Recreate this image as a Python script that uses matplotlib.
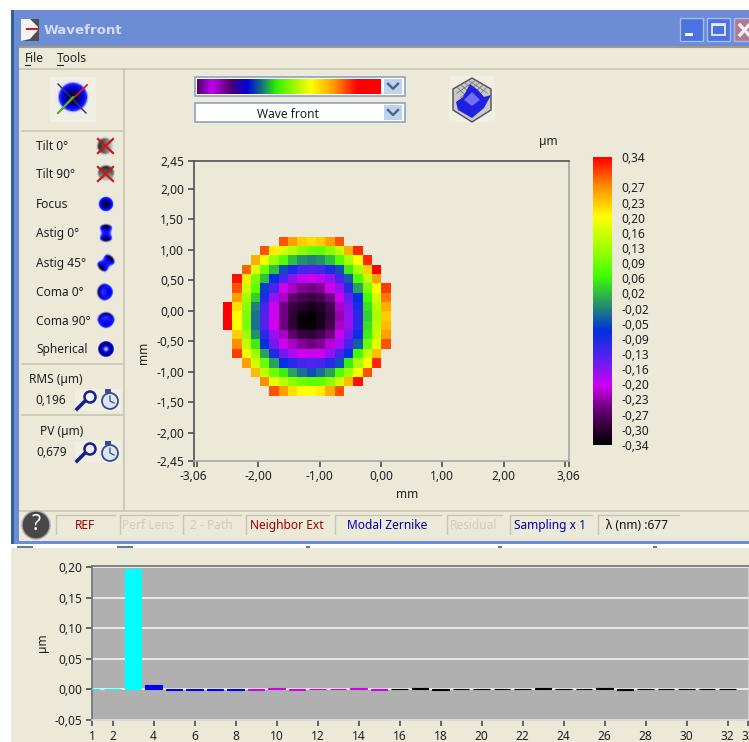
"""Wavefront analyser window: wave front map, colour scale and Zernike bars."""
import numpy as np
import matplotlib

matplotlib.use("Agg")
import matplotlib.pyplot as plt
from matplotlib.colors import LinearSegmentedColormap, Normalize
from matplotlib.patches import Circle, Polygon, Rectangle

plt.rcParams["font.family"] = ["Noto Sans", "DejaVu Sans"]

W, H = 749, 742
BEIGE = "#ECE9D8"
FS = 8.6

# wave front map in um: first filled column of each row, then the row's values
wave_start = [6, 4, 3, 2, 1, 1, 1, 0, 0, 0, 1, 1, 1, 2, 3, 4, 5]
wave_rows = [
    [.30, .26, .23, .22, .23, .26, .30],
    [.30, .21, .17, .14, .11, .09, .08, .11, .15, .25, .32],
    [.25, .19, .12, .07, .02, -.01, -.02, -.01, .02, .07, .13, .20, .32],
    [.29, .17, .09, .02, -.05, -.09, -.12, -.13, -.12, -.09, -.05, .05, .13, .23, .34],
    [.33, .21, .10, .02, -.07, -.13, -.16, -.19, -.20, -.19, -.17, -.12, -.04, .07, .15, .26],
    [.30, .16, .08, -.06, -.12, -.20, -.22, -.24, -.25, -.24, -.20, -.17, -.10, .00, .10, .20, .31],
    [.26, .13, .03, -.09, -.17, -.22, -.26, -.28, -.29, -.28, -.25, -.20, -.14, -.07, .06, .16, .28],
    [.34, .22, .11, -.02, -.12, -.20, -.25, -.29, -.31, -.32, -.31, -.28, -.22, -.16, -.09, .04, .14, .25],
    [.34, .20, .10, -.03, -.13, -.20, -.25, -.30, -.33, -.34, -.32, -.29, -.23, -.17, -.10, .03, .13, .23],
    [.34, .20, .10, -.03, -.13, -.20, -.25, -.30, -.33, -.33, -.32, -.28, -.22, -.17, -.10, .04, .14, .24],
    [.23, .12, -.01, -.10, -.17, -.22, -.26, -.29, -.30, -.28, -.25, -.20, -.15, -.08, .05, .15, .26],
    [.27, .15, .05, -.07, -.15, -.20, -.22, -.24, -.25, -.24, -.21, -.18, -.12, -.04, .09, .18, .30],
    [.31, .19, .12, .00, -.09, -.15, -.18, -.20, -.20, -.20, -.17, -.12, -.07, .06, .15, .24],
    [.26, .16, .09, .00, -.07, -.10, -.12, -.13, -.12, -.10, -.05, .05, .13, .20, .32],
    [.24, .15, .09, .05, .00, -.03, -.05, -.03, .00, .07, .12, .20, .30],
    [.27, .18, .14, .11, .09, .08, .08, .11, .16, .24, .33],
    [.30, .26, .22, .20, .20, .21, .25, .30],
]
map_x_ticks = [-3.06, -3, -2, -1, 0, 1, 2, 3, 3.06]
map_x_labels = ["-3,06", "", "-2,00", "-1,00", "0,00", "1,00", "2,00", "", "3,06"]
map_y_ticks = [-2.45, -2, -1.5, -1, -.5, 0, .5, 1, 1.5, 2, 2.45]

# colour scale
scale_values = [-.34, -.26, -.20, -.14, -.07, -.02, .06, .13, .20, .27, .34]
scale_colors = ["#000000", "#600070", "#D000F0", "#6020F0", "#0030E0", "#20807F",
                "#40FF00", "#A8FF00", "#FFFF00", "#FF9000", "#FF0000"]
cbar_ticks = [-.34, -.304, -.268, -.232, -.197, -.161, -.125, -.09, -.054, -.018,
              .018, .054, .09, .125, .161, .197, .232, .268, .34]
cbar_labels = ["-0,34", "-0,30", "-0,27", "-0,23", "-0,20", "-0,16", "-0,13", "-0,09",
               "-0,05", "-0,02", "0,02", "0,06", "0,09", "0,13", "0,16", "0,20",
               "0,23", "0,27", "0,34"]

# Zernike coefficients in um
zernike_terms = list(range(1, 33))
zernike_values = [.0006, .0006, .197, .007, -.002, -.0006, -.0006, -.002, -.0015, .002,
                  -.002, -.0005, -.0005, .002, -.002, -.0005, .0015, -.002, -.0005,
                  -.0005, -.0005, -.0005, .0015, -.0005, -.0005, .0015, -.002, -.0005,
                  -.0005, -.0005, -.0005, -.0005]
zernike_colors = ["#00FFFF"] * 3 + ["#0000F0"] * 5 + ["#D000E8"] * 7 + ["#000000"] * 17
bar_x_ticks = [1, 2] + list(range(4, 34, 2)) + [33]
bar_y_ticks = [-.05, 0, .05, .10, .15, .20]

# left hand panel
aberrations = ["Tilt 0°", "Tilt 90°", "Focus", "Astig 0°", "Astig 45°", "Coma 0°", "Coma 90°", "Spherical"]
status_items = [("REF", 56, 115, "#A00000"), ("Perf Lens", 120, 178, "#CFCDBE"), ("2 - Path", 183, 241, "#CFCDBE"),
                ("Neighbor Ext", 246, 329, "#A00000"), ("Modal Zernike", 335, 441, "#0000A8"),
                ("Residual", 447, 502, "#CFCDBE"), ("Sampling x 1", 510, 592, "#0000A8"),
                ("λ (nm) :677", 598, 679, "#101010")]


def px_axes(fig, left, top, right, bottom):
    return fig.add_axes([left / W, 1 - bottom / H, (right - left) / W, (bottom - top) / H])


def comma(v):
    return f"{v:.2f}".replace(".", ",")


def rect(ax, x0, y0, x1, y1, color, **kw):
    ax.add_patch(Rectangle((x0, y0), x1 - x0, y1 - y0, facecolor=color, edgecolor=kw.pop("edge", "none"), **kw))


def hline(ax, x0, x1, y, color="#C8C5B2", lw=1.2):
    ax.plot([x0, x1], [y, y], color=color, lw=lw, solid_capstyle="butt")


def zernike_icon(ax, name, cx, cy, r=10):
    g = np.linspace(-1.15, 1.15, 28)
    x, y = np.meshgrid(g, g)
    rho = np.hypot(x, y)
    pattern = {
        "Tilt 0°": x, "Tilt 90°": y, "Focus": 2.2 * rho**2 - 1.1,
        "Astig 0°": 2.2 * (x**2 - y**2), "Astig 45°": 4 * x * y,
        "Coma 0°": 3.5 * (rho**2 - .45) * x, "Coma 90°": 3.5 * (rho**2 - .45) * y,
        "Spherical": 7 * (rho**2 - .5)**2 - .85,
    }[name]
    cmap = LinearSegmentedColormap.from_list("ic", ["#000040", "#0000E8", "#2020FF", "#E8E8FF"])
    if name.startswith("Tilt"):
        cmap = LinearSegmentedColormap.from_list("ic", ["#202020", "#707070", "#E8E8E8"])
    value = pattern + .55 * np.clip(rho - .8, 0, 1) / .2
    rgba = cmap(Normalize(-1, 1)(np.clip(value, -1, 1)))
    rgba[..., 3] = np.clip((1.15 - rho) / .25, 0, 1)
    ax.imshow(rgba, extent=(cx - r, cx + r, cy + r, cy - r), interpolation="bilinear", aspect="auto", zorder=3)
    if name.startswith("Tilt"):
        ax.plot([cx - 8, cx + 7], [cy - 7, cy + 7], color="#C81818", lw=1.6, zorder=4)
        ax.plot([cx - 8, cx + 7], [cy + 7, cy - 7], color="#C81818", lw=1.6, zorder=4)


def draw_chrome(ax):
    rect(ax, 11, 10, W, 545, "#6C8CD5")
    rect(ax, 11, 10, 14, 545, "#2F5F9C")
    grad = np.linspace(0, 1, 36)[:, None]
    title = LinearSegmentedColormap.from_list("t", ["#7F9BE4", "#7794DA", "#7AA0E8"])
    ax.imshow(grad, cmap=title, extent=(14, W, 46, 10), aspect="auto", zorder=0.5)
    rect(ax, 19, 46, W, 541, BEIGE, zorder=1)
    hline(ax, 19, W, 46.5, "#A09A84", 1.5)
    rect(ax, 11, 548, W, H, BEIGE, zorder=1)

    # title bar
    rect(ax, 21, 19, 39, 41, "#505050", zorder=2)
    ax.add_patch(Polygon([[21, 19], [30, 19], [38, 27], [38, 30], [30, 39], [21, 41]],
                         facecolor="#F4F4F4", edgecolor="none", zorder=2))
    ax.plot([27, 37], [28.5, 28.5], color="#E01010", lw=1.4, zorder=3)
    ax.text(44, 30.5, "Wavefront", color="#D4DEF6", fontsize=9.6, family="DejaVu Sans",
            fontweight="bold", va="center", zorder=3)
    for x0, x1, color in [(680, 703, "#4A72E0"), (707, 730, "#4A72E0"), (734, 760, "#B07A94")]:
        ax.add_patch(Rectangle((x0, 18), x1 - x0, 23, facecolor=color, edgecolor="#A8BCEC", lw=1, zorder=2))
    rect(ax, 685, 33, 693, 36, "white", zorder=3)
    ax.add_patch(Rectangle((712, 24), 13, 11, facecolor="none", edgecolor="#E4ECFA", lw=1.3, zorder=3))
    rect(ax, 712, 24, 725, 26, "#E4ECFA", zorder=3)
    ax.plot([740, 749], [25, 35], color="#F4F0F0", lw=2.4, zorder=3)
    ax.plot([740, 749], [35, 25], color="#F4F0F0", lw=2.4, zorder=3)

    # menu
    for label, x, w in [("File", 25, 5), ("Tools", 57, 6)]:
        ax.text(x, 59, label, fontsize=FS, color="#202020", va="center", zorder=3)
        ax.plot([x, x + w], [65, 65], color="#202020", lw=.8, zorder=3)
    hline(ax, 19, W, 68.5, "#C8C5B2", 1.2)

    # panel separators
    ax.plot([124, 124], [69, 510], color="#C8C5B2", lw=1.2, zorder=3)
    for y in (130.5, 363.5, 415):
        hline(ax, 21, 123, y)
    hline(ax, 19, W, 510.5)

    # wave button
    rect(ax, 50, 77, 96, 122, "#F1EFE2", zorder=2)
    zernike_icon(ax, "Focus", 73, 97, r=20)
    ax.plot([58, 87], [113, 85], color="#E01818", lw=1.3, zorder=5)
    ax.plot([58, 73], [113, 97], color="#30D030", lw=1.3, zorder=5)
    ax.plot([58, 86], [84, 113], color="#303080", lw=1, zorder=4)

    for i, name in enumerate(aberrations):
        y = [146, 174, 204, 233, 263, 292, 321, 349][i]
        ax.text(36, y + .5, name, fontsize=FS, color="#202020", va="center", zorder=3)
        zernike_icon(ax, name, 106, y)

    for label, lx, ly, val, vx, vy in [("RMS (µm)", 29, 379, "0,196", 35, 400), ("PV (µm)", 40, 431, "0,679", 36, 452)]:
        ax.text(lx, ly, label, fontsize=FS, color="#202020", va="center", zorder=3)
        ax.text(vx, vy, val, fontsize=FS, color="#202020", va="center", zorder=3)
        rect(ax, 75, vy - 11, 98, vy + 11, "#F1EFE2", zorder=2)
        rect(ax, 98, vy - 11, 121, vy + 11, "#F1EFE2", zorder=2)
        ax.add_patch(Circle((90, vy - 3), 5.5, facecolor="#F4F4FF", edgecolor="#18208C", lw=1.8, zorder=3))
        ax.plot([85, 77], [vy + 1, vy + 9], color="#18208C", lw=2.6, zorder=3)
        ax.add_patch(Circle((110, vy + 1), 8, facecolor="#DDE4F4", edgecolor="#3A4A90", lw=1.3, zorder=3))
        ax.plot([110, 110, 114], [vy - 4, vy + 1, vy + 3], color="#3A4A90", lw=.9, zorder=4)
        rect(ax, 105, vy - 11, 111, vy - 7, "#3A4A90", zorder=3)

    # combos
    for y0, y1 in [(77, 95.5), (103, 122)]:
        ax.add_patch(Rectangle((195, y0), 210, y1 - y0, facecolor="white", edgecolor="#8AA4C4", lw=1.2, zorder=2))
        rect(ax, 384, y0 + 2, 402, y1 - 2, "#C1D2EE", zorder=3)
        cy = (y0 + y1) / 2
        ax.plot([388, 393, 398], [cy - 2.5, cy + 2.5, cy - 2.5], color="#4D6185", lw=1.7, zorder=4)
    ramp = LinearSegmentedColormap.from_list("ramp", [
        (0, "#500070"), (.08, "#C000F0"), (.18, "#500070"), (.27, "#0000D8"), (.34, "#106090"),
        (.43, "#30F000"), (.62, "#FFFF00"), (.74, "#FFA000"), (.87, "#FF0000"), (1, "#FF0000")])
    ax.imshow(np.linspace(0, 1, 256)[None, :], cmap=ramp, extent=(197, 381, 94, 79), aspect="auto", zorder=3)
    ax.text(288, 114, "Wave front", fontsize=FS, color="#202020", ha="center", va="center", zorder=4)

    # 3D button
    rect(ax, 449, 76, 495, 122, "#F1EFE2", zorder=2)
    ax.add_patch(Polygon([[472, 78], [491, 89], [491, 110], [472, 122], [453, 110], [453, 89]],
                         facecolor="#C8C8C8", edgecolor="#505050", lw=1, zorder=3))
    for k in range(1, 5):
        ax.plot([453 + k * 3.8, 472 + k * 3.8], [89 + k * 4.2, 78 + k * 2.2], color="#707070", lw=.5, zorder=3.5)
        ax.plot([472 - k * 3.8, 491 - k * 3.8], [78 + k * 2.2, 89 + k * 4.2], color="#707070", lw=.5, zorder=3.5)
    ax.add_patch(Polygon([[470, 84], [478, 90], [484, 97], [491, 95], [484, 108], [472, 118], [458, 110], [456, 102], [463, 97]],
                         facecolor="#2020E0", edgecolor="none", zorder=4))
    ax.add_patch(Polygon([[472, 92], [480, 100], [472, 106], [464, 100]], facecolor="#7070F0", edgecolor="none", zorder=5))

    # status bar
    ax.add_patch(Circle((36, 525), 14, facecolor="#484848", edgecolor="#A8A8A8", lw=1, zorder=3))
    ax.text(36, 525, "?", color="white", fontsize=15, fontweight="bold", ha="center", va="center", zorder=4)
    for label, x0, x1, color in status_items:
        ax.plot([x0, x0, x1], [534, 515, 515], color="#C8C5B2", lw=1, zorder=3)
        ax.text((x0 + x1) / 2 - 1, 525.5, label, color=color, fontsize=FS, ha="center", va="center", zorder=4)

    # white strip under the window, with the tops of what lies behind it
    rect(ax, 11, 544, W, 548, "white", zorder=2)
    for x0, x1 in [(17, 33), (117, 133), (306, 310), (498, 502), (653, 657)]:
        hline(ax, x0, x1, 547, "#406090", 1.2)
        ax.lines[-1].set_zorder(3)


def style_plot_axes(ax):
    ax.tick_params(axis="both", direction="out", length=4, width=1.1, color="#404040",
                   labelsize=FS, labelcolor="#202020", pad=3)


fig = plt.figure(figsize=(W / 100, H / 100), dpi=100, facecolor="white")

bg = fig.add_axes([0, 0, 1, 1])
draw_chrome(bg)
bg.text(407, 495, "mm", fontsize=FS, color="#202020", ha="center", va="center", zorder=4)
bg.text(143, 353, "mm", fontsize=FS, color="#202020", rotation=90, ha="center", va="center", zorder=4)
bg.text(548, 141, "µm", fontsize=FS, color="#202020", ha="center", va="center", zorder=4)
bg.set_xlim(0, W)
bg.set_ylim(H, 0)
bg.axis("off")

# colour scale shared by map and bar
cmap = LinearSegmentedColormap.from_list(
    "wave", [((v + .34) / .68, c) for v, c in zip(scale_values, scale_colors)])
norm = Normalize(-.34, .34)

# wave front map
ax_map = px_axes(fig, 193.5, 161, 568.5, 460.5)
ax_map.set_facecolor(BEIGE)
n_rows, n_cols = len(wave_rows), 18
grid = np.full((n_rows, n_cols), np.nan)
for r, (start, row) in enumerate(zip(wave_start, wave_rows)):
    grid[r, start:start + len(row)] = row
x_edges = -2.58 + .152 * np.arange(n_cols + 1)
y_edges = 1.213 - .153 * np.arange(n_rows + 1)
ax_map.pcolormesh(x_edges, y_edges, grid, cmap=cmap, norm=norm)
ax_map.set_xlim(-3.06, 3.06)
ax_map.set_ylim(-2.45, 2.45)
ax_map.set_xticks(map_x_ticks, map_x_labels)
ax_map.set_yticks(map_y_ticks, [comma(v) for v in map_y_ticks])
style_plot_axes(ax_map)
for name, s in ax_map.spines.items():
    s.set_color("#505050" if name in ("left", "top") else "#A8A8A0")
    s.set_linewidth(1.2)

# colour bar
ax_cb = px_axes(fig, 593, 157, 612, 445)
ax_cb.imshow(np.linspace(.34, -.34, 256)[:, None], cmap=cmap, norm=norm, aspect="auto", extent=(0, 1, -.34, .34))
ax_cb.set_xticks([])
ax_cb.yaxis.tick_right()
ax_cb.set_yticks(cbar_ticks, cbar_labels)
ax_cb.tick_params(axis="y", length=0, pad=7, labelsize=FS, labelcolor="#202020")
for s in ax_cb.spines.values():
    s.set_visible(False)

# Zernike bars
ax_bar = px_axes(fig, 92, 565.5, W, 720)
ax_bar.set_facecolor("#B0B0B0")
ax_bar.set_axisbelow(True)
ax_bar.yaxis.grid(True, color="#F4F4F4", lw=1.2)
ax_bar.bar(zernike_terms, zernike_values, width=.81, color=zernike_colors,
           edgecolor=zernike_colors, linewidth=.8, zorder=3)
ax_bar.set_xlim(1, 33.04)
ax_bar.set_ylim(-.0505, .2025)
ax_bar.set_xticks(bar_x_ticks, [str(v) for v in bar_x_ticks])
ax_bar.set_yticks(bar_y_ticks, [comma(v) for v in bar_y_ticks])
style_plot_axes(ax_bar)
for name, s in ax_bar.spines.items():
    s.set_color("#707070" if name in ("left", "top") else "#D8D8D8")
    s.set_linewidth(1.2)
ax_bar.set_ylabel("µm", fontsize=FS, color="#202020", labelpad=4)

fig.savefig("out.png", dpi=100, facecolor="white")
